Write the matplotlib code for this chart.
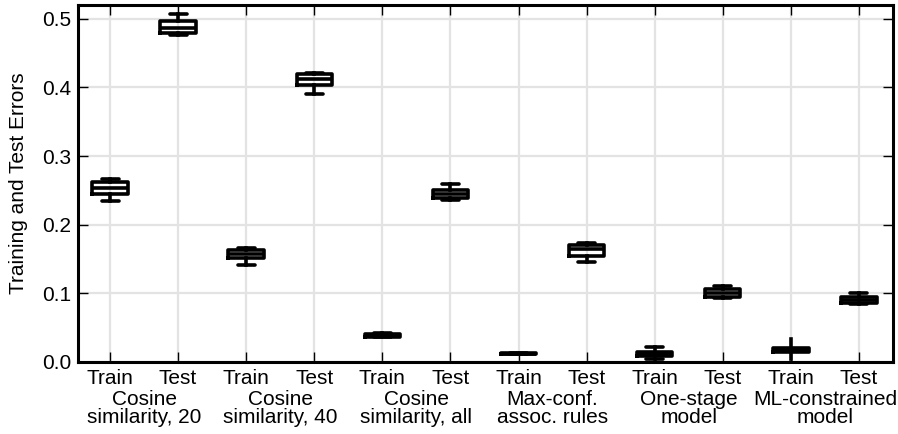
import numpy as np
import matplotlib
matplotlib.use("Agg")
import matplotlib.pyplot as plt

plt.rcParams['font.family'] = ['Liberation Sans', 'DejaVu Sans']

groups = ["Cosine\nsimilarity, 20", "Cosine\nsimilarity, 40", "Cosine\nsimilarity, all",
          "Max-conf.\nassoc. rules", "One-stage\nmodel", "ML-constrained\nmodel"]
box_labels = ["Train", "Test"] * len(groups)

# five-number summaries per box (train/test alternating)
whislo = [0.235, 0.477, 0.141, 0.390, 0.036, 0.236, 0.011, 0.146, 0.004, 0.093, 0.004, 0.084]
q1     = [0.245, 0.479, 0.152, 0.404, 0.037, 0.239, 0.0115, 0.155, 0.009, 0.094, 0.015, 0.086]
med    = [0.254, 0.487, 0.157, 0.412, 0.039, 0.245, 0.012, 0.164, 0.012, 0.100, 0.018, 0.091]
q3     = [0.262, 0.496, 0.163, 0.419, 0.041, 0.251, 0.0125, 0.171, 0.015, 0.106, 0.020, 0.095]
whishi = [0.266, 0.507, 0.166, 0.421, 0.042, 0.259, 0.013, 0.173, 0.022, 0.111, 0.034, 0.100]

stats = []
for i in range(len(box_labels)):
    stats.append(dict(whislo=whislo[i], q1=q1[i], med=med[i], q3=q3[i],
                      whishi=whishi[i], fliers=[], label=box_labels[i]))

fig = plt.figure(figsize=(8.98, 4.34), dpi=100)
ax = fig.add_axes([0.0869, 0.1659, 0.9075, 0.8226])

lw = 2.6
caps = [0.25] * len(stats)
caps[10] = 0.0
ax.bxp(stats, positions=np.arange(1, len(stats) + 1), widths=0.52, capwidths=caps,
       showfliers=False,
       boxprops=dict(color='black', linewidth=lw, solid_joinstyle='round'),
       medianprops=dict(color='black', linewidth=lw),
       whiskerprops=dict(color='black', linewidth=lw),
       capprops=dict(color='black', linewidth=lw, solid_capstyle='round'))

ax.set_xlim(0.53, 12.5)
ax.set_ylim(0, 0.52)
ax.set_yticks([0.0, 0.1, 0.2, 0.3, 0.4, 0.5])
ax.set_yticklabels(["0.0", "0.1", "0.2", "0.3", "0.4", "0.5"])
ax.set_xticks(np.arange(1, len(stats) + 1))
ax.set_xticklabels(box_labels)

ax.grid(True, color='#e3e3e3', linewidth=1.6)
ax.set_axisbelow(True)
ax.tick_params(direction='in', top=True, right=True, length=7, width=1,
               labelsize=15, pad=5)
for s in ax.spines.values():
    s.set_linewidth(2.2)

for k, g in enumerate(groups):
    ax.text(2 * k + 1.5, -0.078, g, transform=ax.get_xaxis_transform(),
            ha='center', va='top', fontsize=15, linespacing=0.92)

ax.set_ylabel("Training and Test Errors", fontsize=15, labelpad=10)

fig.savefig("out.png", dpi=100)
